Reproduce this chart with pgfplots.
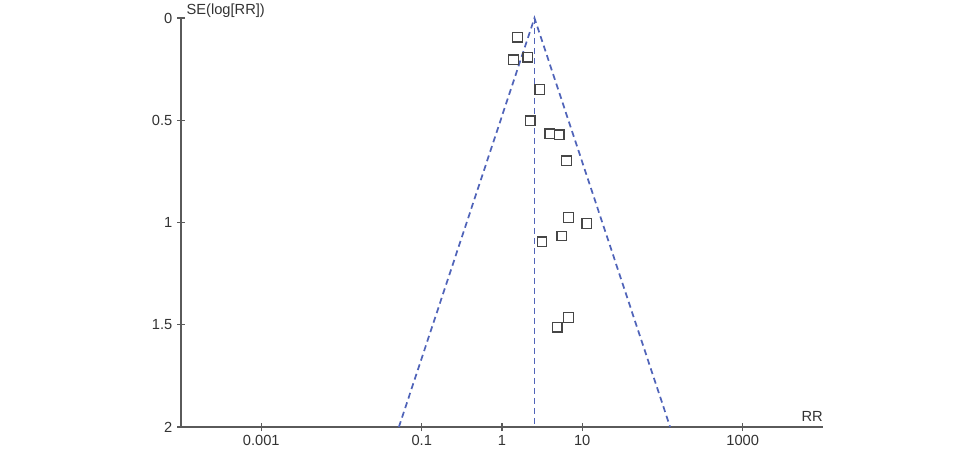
\documentclass[border=0pt]{standalone}
\usepackage{fontspec}
\setmainfont{Liberation Sans}
\usepackage{pgfplots}
\pgfplotsset{compat=1.18}
\definecolor{funnel}{RGB}{80,100,185}
\definecolor{axisgray}{RGB}{90,90,90}
\definecolor{markgray}{RGB}{70,70,70}
\begin{document}
\begin{tikzpicture}
\useasboundingbox (-135.75pt,-19.5pt) rectangle (594pt,320.25pt);
\begin{axis}[
    scale only axis,
    width=481.5pt,
    height=306.75pt,
    xmode=log,
    xmin=1e-4, xmax=1e4,
    ymin=0, ymax=2,
    y dir=reverse,
    axis lines=left,
    axis line style={-, axisgray, line width=0.9pt},
    tick style={axisgray, line width=0.9pt},
    tick align=center,
    major tick length=6pt,
    xminorticks=false,
    xtick={0.001,0.1,1,10,1000},
    xticklabels={0.001,0.1,1,10,1000},
    ytick={0,0.5,1,1.5,2},
    yticklabels={0,0.5,1,1.5,2},
    ticklabel style={font=\fontsize{11}{13}\selectfont, text=black!80},
    /pgf/number format/assume math mode=true,
    clip=false,
]
% funnel (pseudo 95% limits) and pooled estimate
\addplot[funnel, line width=1.3pt, dash pattern=on 4.5pt off 3pt]
    coordinates {(0.0519,2) (2.54,0) (124.5,2)};
\addplot[funnel, line width=1.3pt, dash pattern=on 4.5pt off 3pt]
    coordinates {(2.54,0) (2.54,2)};
% studies
\addplot[only marks, mark=square, mark size=3.6pt,
         mark options={markgray, line width=1pt, solid}]
    coordinates {
    (1.56,0.094) (1.39,0.205) (2.09,0.192) (2.97,0.349)
    (2.24,0.502) (3.95,0.567) (5.17,0.571) (6.35,0.698)
    (6.72,0.975) (11.4,1.005) (5.55,1.066) (3.15,1.095)
    (6.72,1.464) (4.86,1.512)
    };
\node[anchor=south west, inner sep=0pt, font=\fontsize{11}{13}\selectfont, text=black!80]
    at (rel axis cs:0,1) [xshift=4pt, yshift=0pt] {SE(log[RR])};
\node[anchor=south east, inner sep=0pt, font=\fontsize{11}{13}\selectfont, text=black!80]
    at (rel axis cs:1,0) [yshift=4pt] {RR};
\end{axis}
\end{tikzpicture}
\end{document}
